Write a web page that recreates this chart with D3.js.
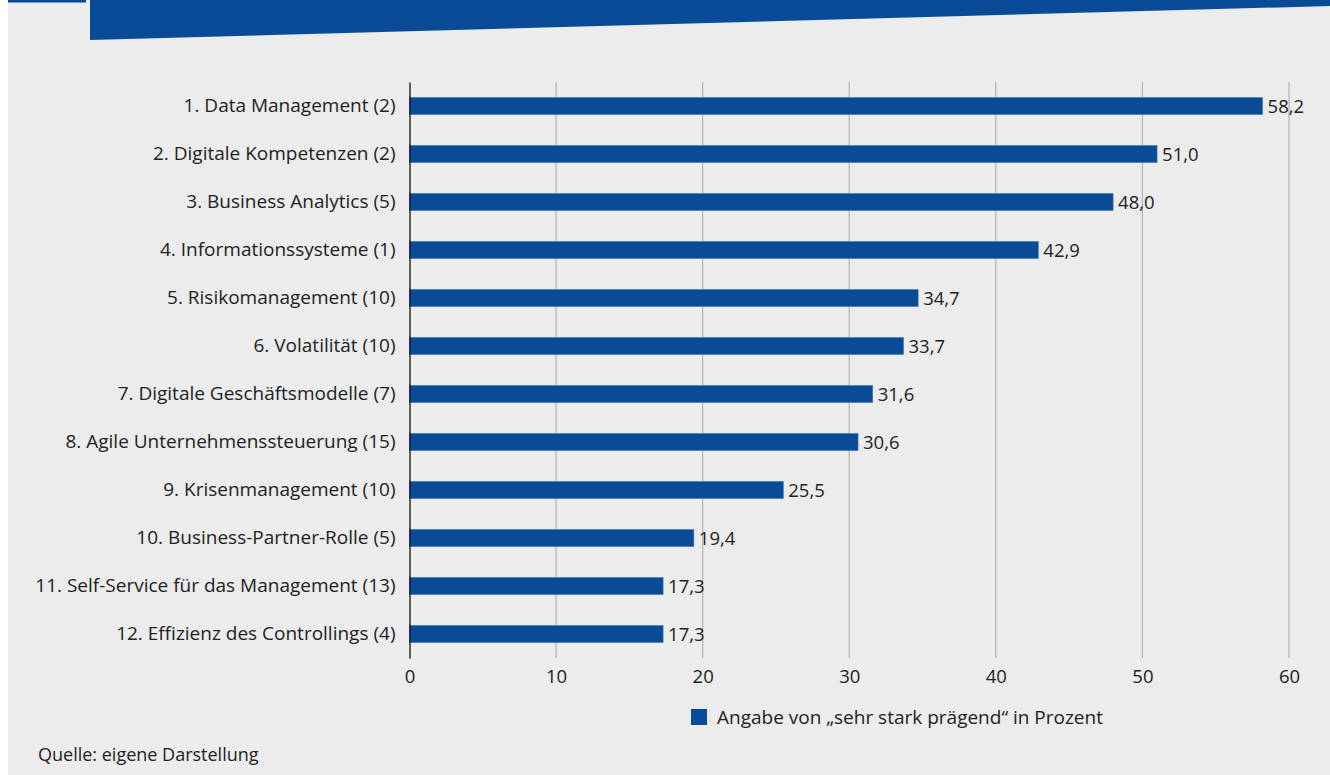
<!DOCTYPE html>
<html>
<head>
<meta charset="utf-8">
<script src="https://cdn.jsdelivr.net/npm/d3@7"></script>
<style>
  html, body { margin: 0; padding: 0; background: #fff; }
  svg { display: block; font-family: "Open Sans", "Noto Sans", sans-serif; }
</style>
</head>
<body>
<svg id="chart" width="1330" height="775"></svg>
<script>
// Megatrends im Controlling – Angabe "sehr stark prägend"

const categories = [
  "1. Data Management (2)",
  "2. Digitale Kompetenzen (2)",
  "3. Business Analytics (5)",
  "4. Informationssysteme (1)",
  "5. Risikomanagement (10)",
  "6. Volatilität (10)",
  "7. Digitale Geschäftsmodelle (7)",
  "8. Agile Unternehmenssteuerung (15)",
  "9. Krisenmanagement (10)",
  "10. Business-Partner-Rolle (5)",
  "11. Self-Service für das Management (13)",
  "12. Effizienz des Controllings (4)"
];
const values = [58.2, 51.0, 48.0, 42.9, 34.7, 33.7, 31.6, 30.6, 25.5, 19.4, 17.3, 17.3];
const xTicks = [0, 10, 20, 30, 40, 50, 60];
const legendLabel = "Angabe von \u201esehr stark prägend\u201c in Prozent";
const sourceLabel = "Quelle: eigene Darstellung";

const BLUE = "#0a4b97";
const BG   = "#ebeceb";
const fmt  = v => v.toFixed(1).replace(".", ",");

const svg = d3.select("#chart");

// hintergrund
svg.append("rect")
  .attr("x", 8).attr("y", 0)
  .attr("width", 1322).attr("height", 775)
  .attr("fill", BG);

// kopfbalken
svg.append("rect")
  .attr("x", 8).attr("y", 0)
  .attr("width", 78).attr("height", 2.5)
  .attr("fill", BLUE);
svg.append("path")
  .attr("d", "M90,0 L1330,0 L1330,6 L90,40 Z")
  .attr("fill", BLUE);

const margin = { top: 82, left: 409.5 };
const plotH  = 576;

const x = d3.scaleLinear()
  .domain([0, 60])
  .range([margin.left, margin.left + 879.5]);

const y = d3.scaleBand()
  .domain(categories)
  .range([margin.top, margin.top + plotH])
  .paddingInner(0.645)
  .paddingOuter(0.3225);

// gitter
svg.append("g")
  .selectAll("line")
  .data(xTicks.filter(d => d > 0))
  .join("line")
  .attr("x1", d => x(d)).attr("x2", d => x(d))
  .attr("y1", margin.top).attr("y2", margin.top + plotH)
  .attr("stroke", "#b3b3b3")
  .attr("stroke-width", 1.2);

// x-achse (nur beschriftung)
const xAxis = svg.append("g")
  .attr("transform", `translate(0,${margin.top + plotH})`)
  .call(d3.axisBottom(x).tickValues(xTicks).tickSize(0).tickPadding(12).tickFormat(d3.format("d")));
xAxis.select(".domain").remove();
xAxis.selectAll("text")
  .attr("font-size", "18.5px")
  .attr("font-family", "\"Open Sans\", sans-serif")
  .attr("fill", "#222");

// balken
svg.append("g")
  .selectAll("rect")
  .data(values)
  .join("rect")
  .attr("x", x(0))
  .attr("y", (d, i) => y(categories[i]))
  .attr("width", d => x(d) - x(0))
  .attr("height", y.bandwidth())
  .attr("fill", BLUE)
  .attr("stroke", "#3f78bd")
  .attr("stroke-width", 0.6);

// werte
svg.append("g")
  .selectAll("text")
  .data(values)
  .join("text")
  .attr("x", d => x(d) + 5)
  .attr("y", (d, i) => y(categories[i]) + y.bandwidth() / 2)
  .attr("dy", "0.36em")
  .attr("font-size", "18.5px")
  .attr("fill", "#222")
  .text(fmt);

// y-achse
const yAxis = svg.append("g")
  .attr("transform", `translate(${margin.left},0)`)
  .call(d3.axisLeft(y).tickSize(0).tickPadding(14));
yAxis.select(".domain")
  .attr("stroke", "#111")
  .attr("stroke-width", 1.3);
yAxis.selectAll("text")
  .attr("font-size", "19px")
  .attr("font-family", "\"Open Sans\", sans-serif")
  .attr("fill", "#222");

// legende
const leg = svg.append("g").attr("transform", "translate(691,709)");
leg.append("rect")
  .attr("width", 16).attr("height", 16)
  .attr("fill", BLUE);
leg.append("text")
  .attr("x", 26).attr("y", 8)
  .attr("dy", "0.36em")
  .attr("font-size", "19px")
  .attr("fill", "#222")
  .text(legendLabel);

// quelle
svg.append("text")
  .attr("x", 38).attr("y", 761)
  .attr("font-size", "18px")
  .attr("fill", "#222")
  .text(sourceLabel);
</script>
</body>
</html>
